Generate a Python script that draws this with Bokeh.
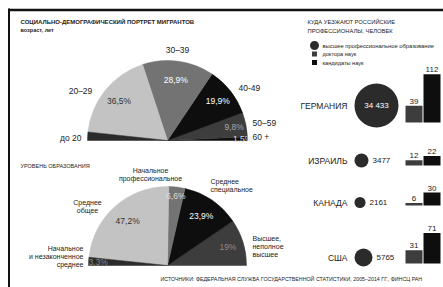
import numpy as np
from bokeh.plotting import figure
from bokeh.models import Range1d
from bokeh.core.properties import value
from bokeh.embed import file_html
from bokeh.resources import INLINE

# ---------------- data ----------------
age_groups = ["60 +", "50–59", "40-49", "30–39", "20–29", "до 20"]
age_share = [1.5, 9.8, 19.9, 28.9, 36.5, 3.4]
age_pct_labels = ["1,5%", "9,8%", "19,9%", "28,9%", "36,5%", ""]

edu_levels = ["Высшее,\nнеполное\nвысшее", "Среднее\nспециальное", "Начальное\nпрофессиональное",
              "Среднее\nобщее", "Начальное\nи незаконченное\nсреднее"]
edu_share = [19.0, 23.9, 6.6, 47.2, 3.3]
edu_pct_labels = ["19%", "23,9%", "6,6%", "47,2%", "3,3%"]

countries = ["ГЕРМАНИЯ", "ИЗРАИЛЬ", "КАНАДА", "США"]
higher_edu = [34433, 3477, 2161, 5765]
higher_edu_labels = ["34 433", "3477", "2161", "5765"]
doctors = [39, 12, 6, 31]
candidates = [112, 22, 30, 71]

legend_labels = ["высшее профессиональное образование", "доктора наук", "кандидаты наук"]

# ---------------- style / layout ----------------
FONT = "Liberation Sans"
LIGHT, MID, DARK, BLACK, DARK2 = "#c3c3c3", "#737373", "#3d3d3d", "#0e0e0e", "#2b2b2b"
age_colors = [BLACK, DARK, BLACK, MID, LIGHT, DARK2]
edu_colors = [DARK, BLACK, MID, LIGHT, DARK2]

W, H = 443, 287
p = figure(width=W, height=H, output_backend="svg", toolbar_location=None,
           x_range=Range1d(0, W), y_range=Range1d(0, H),
           x_axis_type=None, y_axis_type=None, min_border=0)
p.grid.visible = False
p.outline_line_color = None
p.background_fill_color = "white"


def Y(sy):
    return H - sy


def txt(xs, ys, texts, align="left", size="8px", color="#222", style="normal", baseline="middle"):
    p.text(x=list(xs), y=[Y(v) for v in ys], text=list(texts), text_align=align,
           text_baseline=baseline, text_font=value(FONT), text_font_size=value(size),
           text_color=color, text_font_style=style)


# frame
p.segment(x0=[8, 8.5], y0=[Y(9.5), Y(8)], x1=[443, 8.5], y1=[Y(9.5), Y(287)],
          line_color="#111", line_width=[2.5, 2])


def half_pie(cx, cy, R, shares, colors, pct, fracs, pct_colors, size):
    b = np.concatenate([[0], np.cumsum(shares)]) / 100.0 * np.pi
    p.wedge(x=cx, y=Y(cy), radius=R, start_angle=b[:-1], end_angle=b[1:],
            fill_color=colors, line_color=colors, line_width=0.5)
    mid = (b[:-1] + b[1:]) / 2
    for m, t, f, c in zip(mid, pct, fracs, pct_colors):
        if t:
            p.text(x=[cx + f * R * np.cos(m)], y=[Y(cy) + f * R * np.sin(m)], text=[t],
                   text_align="center", text_baseline="middle", text_font=value(FONT),
                   text_font_size=value(size), text_color=c)


# ---- age pie ----
txt([20], [21.5], ["СОЦИАЛЬНО-ДЕМОГРАФИЧЕСКИЙ ПОРТРЕТ МИГРАНТОВ"], size="6px", style="bold")
txt([20], [29], ["возраст, лет"], size="5.5px", style="bold")
half_pie(167, 140, 80, age_share, age_colors, age_pct_labels,
         [0.94, 0.85, 0.8, 0.76, 0.78, 0.9], ["#ddd", "#a8a8a8", "#fff", "#fff", "#333", "#fff"], "8.5px")
txt([177, 80], [49, 90], [age_groups[3], age_groups[4]], align="center", size="8.5px")
txt([238, 252, 252], [87, 122, 136], [age_groups[2], age_groups[1], age_groups[0]], size="8.5px")
txt([81], [137], [age_groups[5]], align="right", size="8.5px")

# ---- education pie ----
txt([20], [165], ["УРОВЕНЬ ОБРАЗОВАНИЯ"], size="5.5px")
half_pie(167, 265, 79, edu_share, edu_colors, edu_pct_labels,
         [0.8, 0.76, 0.88, 0.76, 0.88], ["#8a8a8a", "#fff", "#ddd", "#333", "#888"], "8.5px")


def multiline(x, y0, label, align, size="7px", step=8):
    lines = label.split("\n")
    txt([x] * len(lines), [y0 + i * step for i in range(len(lines))], lines, align=align, size=size)


multiline(252, 238, edu_levels[0], "left")
multiline(210, 181, edu_levels[1], "left")
multiline(150, 170, edu_levels[2], "center")
multiline(87, 202, edu_levels[3], "center")
multiline(83, 248, edu_levels[4], "right")

# ---- right panel ----
txt([307, 307], [21.5, 30], ["КУДА УЕЗЖАЮТ РОССИЙСКИЕ", "ПРОФЕССИОНАЛЫ, ЧЕЛОВЕК"], size="5.8px")
p.circle(x=[314], y=[Y(45)], radius=4.5, fill_color=DARK2, line_color=None)
p.scatter(x=[314, 314], y=[Y(53.5), Y(62)], marker="square", size=5,
          fill_color=[DARK, BLACK], line_color=None)
txt([322], [45], legend_labels[:1], size="5.8px")
txt([322, 322], [53.5, 62], legend_labels[1:], size="5.6px")

row_y = [105, 160, 202, 257]
base_y = [122, 165, 205, 263]
R_MAX, LEFT = 22.0, 354
radii = [R_MAX * np.sqrt(v / max(higher_edu)) for v in higher_edu]
cxs = [LEFT + r for r in radii]
p.circle(x=cxs, y=[Y(v) for v in row_y], radius=radii, fill_color=DARK2, line_color=None)
txt([347] * 4, row_y, countries, align="right", size="8.5px")
inside = [i for i, r in enumerate(radii) if r > 15]
outside = [i for i, r in enumerate(radii) if r <= 15]
txt([cxs[i] for i in inside], [row_y[i] for i in inside], [higher_edu_labels[i] for i in inside],
    align="center", size="8px", color="#fff")
txt([LEFT + 2 * radii[i] + 4 for i in outside], [row_y[i] for i in outside],
    [higher_edu_labels[i] for i in outside], size="8px")

K = 0.43
BX1, BX2, BW = 413.5, 431.5, 17
bottoms = [Y(b) for b in base_y]
p.vbar(x=[BX1] * 4, width=BW, bottom=bottoms, top=[b + v * K for b, v in zip(bottoms, doctors)],
       fill_color=DARK, line_color=None)
p.vbar(x=[BX2] * 4, width=BW, bottom=bottoms, top=[b + v * K for b, v in zip(bottoms, candidates)],
       fill_color=BLACK, line_color=None)
p.text(x=[BX1] * 4, y=[b + v * K + 2 for b, v in zip(bottoms, doctors)], text=[str(v) for v in doctors],
       text_align="center", text_baseline="bottom", text_font=value(FONT), text_font_size=value("8px"),
       text_color="#222")
p.text(x=[BX2] * 4, y=[b + v * K + 2 for b, v in zip(bottoms, candidates)], text=[str(v) for v in candidates],
       text_align="center", text_baseline="bottom", text_font=value(FONT), text_font_size=value("8px"),
       text_color="#222")

txt([160], [278], ["ИСТОЧНИКИ: ФЕДЕРАЛЬНАЯ СЛУЖБА ГОСУДАРСТВЕННОЙ СТАТИСТИКИ, 2005–2014 ГГ., ФИНСЦ РАН"],
    size="5.3px")

open("out.html", "w").write(file_html(p, INLINE))
